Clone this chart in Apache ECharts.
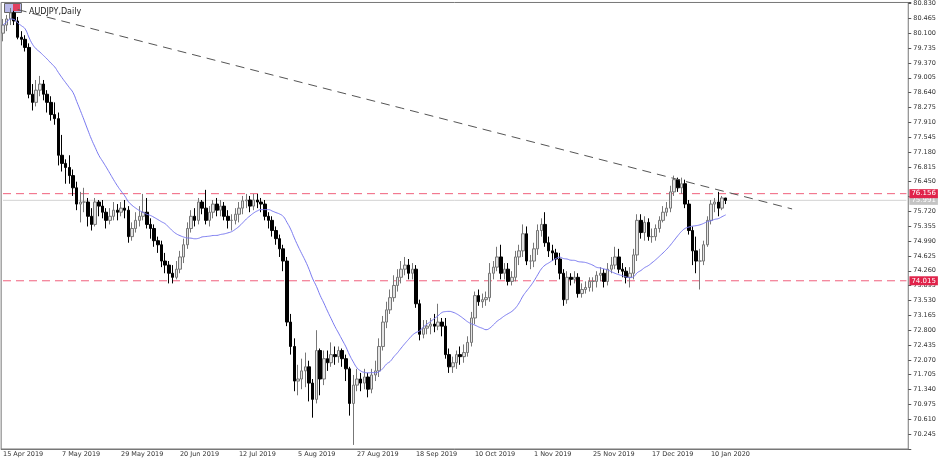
<!DOCTYPE html>
<html><head><meta charset="utf-8">
<script src="https://cdn.jsdelivr.net/npm/echarts@6/dist/echarts.min.js"></script>
<style>html,body{margin:0;padding:0;background:#fff}#c{width:939px;height:458px}</style>
</head><body><div id="c"></div>
<script>
const firstOpen = 80.10;
const closes = [
80.30,80.45,80.60,80.40,80.00,79.95,79.75,78.60,78.40,78.70,78.85,78.60,78.40,78.10,78.00,77.10,
76.90,76.80,76.60,76.30,75.90,75.95,75.95,75.60,75.40,75.95,75.85,75.70,75.50,75.60,75.75,75.70,
75.80,75.75,75.10,75.30,75.50,75.60,75.70,75.40,75.30,75.00,74.90,74.50,74.40,74.20,74.10,74.30,
74.60,74.90,75.30,75.60,75.50,75.95,75.80,75.50,75.70,75.90,75.75,75.85,75.60,75.50,75.50,75.65,
75.80,75.98,76.00,75.85,76.00,75.95,75.90,75.60,75.50,75.25,75.05,74.80,74.50,73.00,72.40,71.55,
71.60,71.80,71.90,71.50,71.10,72.30,71.60,72.10,72.00,72.20,72.15,72.30,72.10,71.85,71.00,71.45,
71.60,71.50,71.65,71.35,71.70,71.80,72.40,73.00,73.30,73.60,73.90,74.10,74.30,74.40,74.20,74.30,
73.45,72.70,72.85,72.90,72.95,72.90,73.00,72.90,72.20,71.90,72.00,72.20,72.15,72.25,72.50,73.10,
73.65,73.50,73.55,73.60,74.20,74.35,74.60,74.20,74.30,74.00,74.10,74.60,74.75,75.17,74.50,74.50,
74.80,75.25,75.40,74.95,74.75,74.70,74.55,74.20,73.55,74.10,74.05,74.10,73.70,73.80,73.85,74.00,
74.00,74.15,74.20,74.00,74.30,74.40,74.60,74.30,74.25,74.10,74.20,74.65,75.50,75.20,75.45,75.10,
75.10,75.30,75.50,75.70,75.80,76.20,76.50,76.30,76.40,75.90,75.25,74.75,74.50,74.50,74.90,75.50,
75.90,75.95,75.80,76.05,75.99];
const highs = [
80.45,80.55,80.72,80.65,80.50,80.15,80.05,79.85,78.85,78.95,79.05,78.95,78.70,78.55,78.40,78.15,
77.60,77.00,77.10,76.75,76.45,76.20,76.30,76.05,75.80,76.05,76.00,76.00,75.80,75.80,75.95,75.90,
75.95,76.00,75.85,75.45,75.70,75.85,76.15,76.05,75.55,75.40,75.10,75.00,74.70,74.50,74.40,74.50,
74.75,75.05,75.45,75.75,75.80,76.05,76.00,76.25,75.85,76.00,76.05,76.00,75.95,75.75,75.65,75.80,
75.95,76.10,76.15,76.10,76.15,76.15,76.05,76.00,75.70,75.60,75.35,75.15,74.90,74.60,73.20,72.60,
71.95,72.10,72.25,72.05,71.60,72.80,72.35,72.30,72.30,72.50,72.40,72.40,72.35,72.20,71.90,71.70,
71.85,71.75,71.85,71.75,71.85,72.05,72.60,73.15,73.50,73.80,74.15,74.30,74.50,74.60,74.55,74.45,
74.40,73.55,73.05,73.05,73.10,73.20,73.45,73.10,73.10,72.35,72.15,72.30,72.40,72.45,72.65,73.25,
73.75,73.80,73.70,73.75,74.45,74.50,74.85,74.90,74.45,74.45,74.25,74.75,74.90,75.40,75.35,74.65,
74.95,75.40,75.55,75.70,75.10,74.90,74.80,74.70,74.30,74.25,74.20,74.25,74.20,73.95,74.00,74.10,
74.10,74.25,74.35,74.30,74.45,74.60,74.85,74.80,74.45,74.35,74.35,74.80,75.65,75.65,75.60,75.55,
75.30,75.40,75.60,75.85,75.95,76.35,76.60,76.55,76.55,76.50,76.00,75.35,75.10,74.80,75.00,75.60,
76.00,76.05,76.20,76.10,76.05];
const lows = [
79.90,80.15,80.30,80.30,79.95,79.80,79.65,78.50,78.20,78.30,78.55,78.45,78.15,77.95,77.85,76.85,
76.70,76.40,76.40,76.10,75.75,75.45,75.70,75.35,75.25,75.35,75.60,75.55,75.30,75.40,75.50,75.50,
75.60,75.55,74.95,75.00,75.20,75.35,75.50,75.30,75.05,74.85,74.70,74.35,74.20,73.95,73.95,74.05,
74.20,74.45,74.80,75.20,75.35,75.40,75.65,75.40,75.35,75.55,75.60,75.60,75.50,75.30,75.25,75.40,
75.45,75.65,75.80,75.70,75.75,75.80,75.70,75.50,75.30,75.10,74.90,74.60,74.25,72.90,72.20,71.30,
71.20,71.35,71.40,71.05,70.65,71.00,71.20,71.45,71.80,71.90,71.95,72.00,71.90,71.55,70.70,69.98,
71.30,71.30,71.35,71.15,71.25,71.55,71.65,72.30,72.85,73.20,73.50,73.75,73.95,74.15,74.05,74.05,
73.35,72.55,72.60,72.70,72.70,72.75,72.80,72.65,72.10,71.75,71.75,71.85,71.95,72.00,72.15,72.40,
72.95,73.40,73.35,73.40,73.50,74.05,74.25,74.05,74.05,73.90,73.90,74.00,74.40,74.60,74.40,74.30,
74.35,74.65,75.10,74.85,74.60,74.50,74.40,74.05,73.40,73.45,73.90,73.95,73.60,73.60,73.70,73.75,
73.75,73.85,74.00,73.85,73.90,74.20,74.30,74.20,74.10,73.95,73.85,74.05,74.50,75.05,75.00,75.00,
74.95,75.00,75.20,75.45,75.60,75.70,76.10,76.20,76.15,75.80,75.15,74.40,74.20,73.80,74.40,74.85,
75.40,75.70,75.60,75.75,75.90];
const tickLabels = ['15 Apr 2019','7 May 2019','29 May 2019','20 Jun 2019','12 Jul 2019','5 Aug 2019','27 Aug 2019','18 Sep 2019','10 Oct 2019','1 Nov 2019','25 Nov 2019','17 Dec 2019','10 Jan 2020'];
const levelHigh = 76.156, levelLow = 74.015, lastPrice = 75.991;
const trendPoints = [[4, 80.68], [108, 78.26], [214, 75.78]];
const maPeriod = 20;
const nCats = 246;

const cats = [];
for (let i = 0; i < nCats; i++) cats.push(i % 16 === 0 && i / 16 < tickLabels.length ? tickLabels[i / 16] : '');
const ohlc = closes.map((c, i) => { const o = i === 0 ? firstOpen : closes[i - 1]; return [o, c, lows[i], highs[i]]; });
const ma = closes.map((c, i) => { const s = closes.slice(Math.max(0, i - maPeriod + 1), i + 1); return +(s.reduce((a, b) => a + b, 0) / s.length).toFixed(4); });
const isTick = i => i % 16 === 0 && i / 16 < tickLabels.length;

function levelSeries(val, lineColor, lineType, boxColor, z) {
  return { type: 'line', data: [[0, val], [nCats - 1, val]], z: z, silent: true, showSymbol: false, symbol: 'none',
    color: lineColor,
    lineStyle: { color: lineColor, type: lineType, width: 1 },
    endLabel: { show: true, formatter: val.toFixed(3), backgroundColor: boxColor, color: '#fff', fontSize: 7, padding: [1, 2], distance: 3, fontFamily: 'DejaVu Sans' } };
}

const chart = echarts.init(document.getElementById('c'));
chart.setOption({
  animation: false,
  title: { text: 'AUDJPY,Daily', left: 24, top: 3, textStyle: { fontSize: 8, fontWeight: 'normal', color: '#222', fontFamily: 'DejaVu Sans' } },
  graphic: [{ type: 'rect', left: 4, top: 3, shape: { width: 17, height: 9 }, style: { fill: '#b8b8e8', stroke: '#666' } },
            { type: 'rect', left: 13, top: 4, shape: { width: 7, height: 7 }, style: { fill: '#e04060' } }],
  grid: { left: 1, right: 27, top: 1, bottom: 9, show: true, borderColor: '#777', borderWidth: 1, backgroundColor: '#fff' },
  xAxis: { type: 'category', data: cats, boundaryGap: true,
    axisLine: { lineStyle: { color: '#777' } },
    axisTick: { interval: (i) => isTick(i), alignWithLabel: true, length: 3, lineStyle: { color: '#555' } },
    axisLabel: { interval: (i) => isTick(i), fontSize: 6.5, color: '#333', align: 'left', margin: 2, fontFamily: 'DejaVu Sans' },
    splitLine: { show: false } },
  yAxis: { type: 'value', position: 'right', min: 69.88, max: 80.855, interval: 0.365, scale: true,
    axisLine: { show: false }, axisTick: { show: true, length: 3, lineStyle: { color: '#555' } },
    splitLine: { show: false },
    axisLabel: { fontSize: 6.5, color: '#333', margin: 5, fontFamily: 'DejaVu Sans',
      formatter: v => { const k = (v - 69.88) / 0.365; if (Math.abs(k - Math.round(k)) > 0.02 || k < 0.5) return ''; return v.toFixed(3); } } },
  series: [
    levelSeries(lastPrice, '#d4d4d4', 'solid', '#c4c4c4', 1),
    levelSeries(levelHigh, '#f0607c', [8, 5], '#e0234a', 2),
    levelSeries(levelLow, '#f0607c', [8, 5], '#e0234a', 2),
    { type: 'candlestick', data: ohlc, barWidth: 3, z: 3,
      itemStyle: { color: '#e4e4e4', color0: '#000', borderColor: '#777', borderColor0: '#000', borderWidth: 1 } },
    { type: 'line', data: ma, showSymbol: false, smooth: true, z: 4, lineStyle: { color: '#7a7af0', width: 1 } },
    { type: 'line', data: trendPoints, z: 5, lineStyle: { color: '#555', type: [9, 6], width: 1 },
      symbol: 'rect', symbolSize: (v, p) => p.dataIndex === 0 ? 0 : 3, itemStyle: { color: '#000' } }
  ]
});
</script></body></html>
